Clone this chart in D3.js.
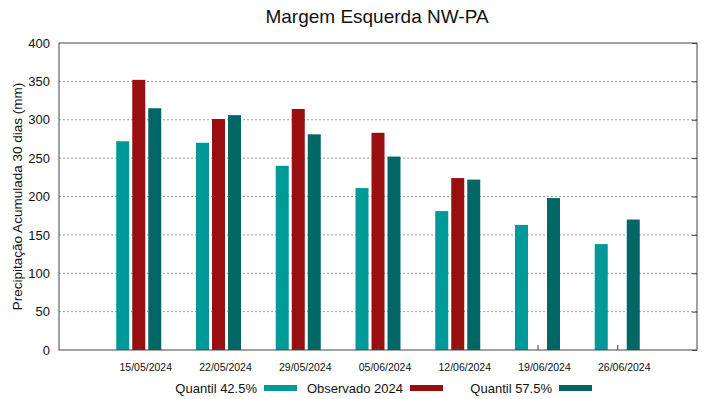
<!DOCTYPE html>
<html>
<head>
<meta charset="utf-8">
<script src="https://d3js.org/d3.v7.min.js"></script>
<style>
body { margin: 0; background: white; }
svg { font-family: "Liberation Sans", Arial, sans-serif; }
</style>
</head>
<body>
<svg id="chart" width="719" height="399"></svg>
<script>
// data
var dates = ["15/05/2024","22/05/2024","29/05/2024","05/06/2024","12/06/2024","19/06/2024","26/06/2024"];
var q425 = [272, 270, 240, 211, 181, 163, 138];
var obs2024 = [352, 301, 314, 283, 224, null, null];
var q575 = [315, 306, 281, 252, 222, 198, 170];
var yTicks = [0, 50, 100, 150, 200, 250, 300, 350, 400];

var seriesNames = ["Quantil 42.5%", "Observado 2024", "Quantil 57.5%"];
var colors = ["#009999", "#990e0e", "#006666"];

var svg = d3.select("#chart");
var plotL = 59, plotR = 697, plotT = 43, plotB = 350;

var x = d3.scaleLinear().domain([-1, 7]).range([plotL, plotR]);
var y = d3.scaleLinear().domain([0, 400]).range([plotB, plotT]);

var series = [q425, obs2024, q575];
var barW = 13, step = 16;

// grid lines
svg.append("g").selectAll("line")
  .data(yTicks.filter(function(d){ return d > 0 && d < 400; }))
  .enter().append("line")
  .attr("x1", plotL).attr("x2", plotR)
  .attr("y1", function(d){ return y(d); }).attr("y2", function(d){ return y(d); })
  .attr("stroke", "#a0a0a0").attr("stroke-width", 1)
  .attr("stroke-dasharray", "2,2");

// bars
series.forEach(function(vals, s) {
  svg.append("g").selectAll("rect")
    .data(vals.map(function(v, i){ return {v: v, i: i}; }).filter(function(d){ return d.v != null; }))
    .enter().append("rect")
    .attr("x", function(d){ return x(d.i) + (s - 1) * step - barW / 2; })
    .attr("width", barW)
    .attr("y", function(d){ return y(d.v); })
    .attr("height", function(d){ return y(0) - y(d.v); })
    .attr("fill", colors[s]);
});

// frame
svg.append("rect")
  .attr("x", plotL).attr("y", plotT)
  .attr("width", plotR - plotL).attr("height", plotB - plotT)
  .attr("fill", "none").attr("stroke", "#444").attr("stroke-width", 1);

// y axis labels
var yAxis = d3.axisLeft(y).tickValues(yTicks).tickSize(0).tickPadding(9);
svg.append("g").attr("transform", "translate(" + plotL + ",0)").call(yAxis)
  .call(function(g){ g.select(".domain").remove(); })
  .selectAll("text").style("font-size", "13px").attr("fill", "#111")
  .style("font-family", "Liberation Sans, Arial, sans-serif");

// right mirrored ticks
svg.append("g").attr("transform", "translate(" + plotR + ",0)")
  .call(d3.axisRight(y).tickValues(yTicks).tickSize(-5).tickFormat(""))
  .call(function(g){ g.select(".domain").remove(); g.selectAll("line").attr("stroke", "#444"); });

// x axis: inward ticks at group centers
svg.append("g").attr("transform", "translate(0," + plotB + ")")
  .call(d3.axisBottom(x).tickValues(d3.range(dates.length)).tickSize(-5).tickFormat(""))
  .call(function(g){ g.select(".domain").remove(); g.selectAll("line").attr("stroke", "#444"); });

svg.append("g").selectAll("text")
  .data(dates).enter().append("text")
  .attr("x", function(d, i){ return x(i) + 7; })
  .attr("y", 371)
  .attr("text-anchor", "middle")
  .style("font-size", "10.5px").attr("fill", "#111")
  .text(function(d){ return d; });

// title
svg.append("text")
  .attr("x", 377).attr("y", 23)
  .attr("text-anchor", "middle")
  .style("font-size", "19px").attr("fill", "#111")
  .text("Margem Esquerda NW-PA");

// y label
svg.append("text")
  .attr("transform", "translate(22," + ((plotT + plotB) / 2) + ") rotate(-90)")
  .attr("text-anchor", "middle")
  .style("font-size", "13.5px").attr("fill", "#111")
  .text("Precipitação Acumulada 30 dias (mm)");

// legend
var legendEnds = [257, 403, 552];
seriesNames.forEach(function(name, s) {
  svg.append("text")
    .attr("x", legendEnds[s]).attr("y", 393)
    .attr("text-anchor", "end")
    .style("font-size", "13px").attr("fill", "#111")
    .text(name);
  svg.append("rect")
    .attr("x", legendEnds[s] + 7).attr("y", 385)
    .attr("width", 33).attr("height", 6)
    .attr("fill", colors[s]);
});
</script>
</body>
</html>
